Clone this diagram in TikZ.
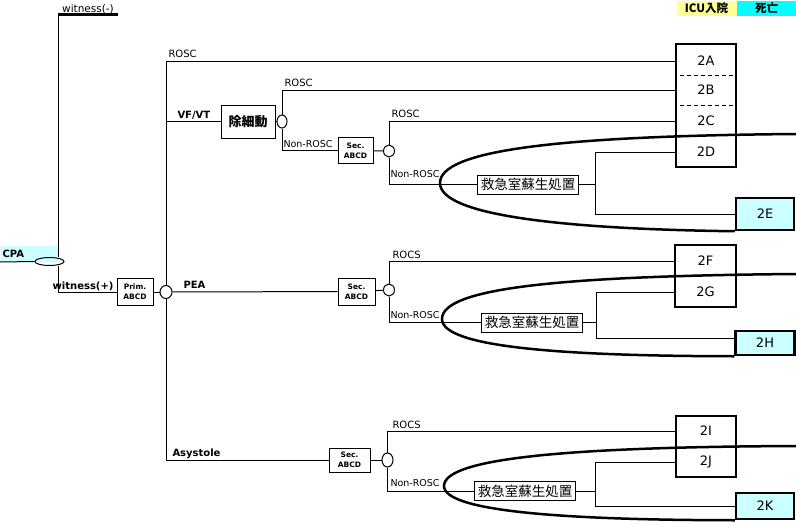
\documentclass[tikz,border=0pt]{standalone}
\usepackage{fontspec}
\setmainfont{DejaVu Sans}
\newfontfamily\jp{Noto Sans CJK JP}
\usetikzlibrary{shapes.geometric,calc}
\definecolor{icuyellow}{RGB}{255,255,153}
\definecolor{deadcyan}{RGB}{0,255,255}
\definecolor{palecyan}{RGB}{204,255,255}
\begin{document}
\begin{tikzpicture}[x=1pt, y=-1pt, line width=1pt,
    lbl/.style={font=\fontsize{10}{10}\selectfont, inner sep=0pt, anchor=base west},
    nrlbl/.style={font=\fontsize{9.5}{10}\selectfont, inner sep=0pt, anchor=base west},
    blbl/.style={font=\fontsize{10}{10}\selectfont\bfseries, inner sep=0pt, anchor=base west},
    box/.style={draw, inner sep=0pt},
    abcd/.style={box, align=center, font=\fontsize{7.5}{10}\selectfont\bfseries},
    res/.style={box, minimum width=101, minimum height=19, font=\jp\fontsize{13.5}{13.5}\selectfont},
    outcome/.style={draw, line width=2.5pt, inner sep=0pt, font=\fontsize{13}{13}\selectfont},
    num/.style={font=\fontsize{13}{13}\selectfont, inner sep=0pt},
    junc/.style={ellipse, draw, inner sep=0pt, minimum width=11, minimum height=13},
    loop/.style={line width=2.5pt}
    ]
    \useasboundingbox (0,0) rectangle (796,525);
    % header
    \node[fill=icuyellow, minimum width=60, minimum height=15, anchor=north west, inner sep=0pt,
      font=\jp\fontsize{11.5}{11.5}\selectfont\bfseries] (icu) at (676,0) {ICU入院};
    \node[fill=deadcyan, minimum width=60, minimum height=15, anchor=north west, inner sep=0pt,
      font=\jp\fontsize{11.5}{11.5}\selectfont\bfseries] (dead) at (736,0) {死亡};

    % start
    \node[fill=palecyan, anchor=south west, minimum height=16, text width=54, inner xsep=2pt,
      inner ysep=0pt, align=left, font=\fontsize{10}{10}\selectfont\bfseries] (cpa) at (0,262) {CPA};
    \node[junc, minimum width=29, minimum height=8] (j0) at (49.5,261.5) {};
    \node[lbl, anchor=south west, minimum width=59, font=\fontsize{10.5}{10.5}\selectfont] (wminus) at (58,14) {witness(-)};
    \draw[line width=3pt] (wminus.south west) -- (wminus.south east);
    \draw (wminus.south west) -- (wminus.south west |- j0.north);
    \draw (cpa.south west) -- (j0.west);
    \node[abcd, minimum width=36, minimum height=27] (prim) at (135,292) {Prim.\\ABCD};
    \draw (wminus.south west |- j0.south) |- (prim);
    \node[blbl, anchor=base east, font=\fontsize{10}{10}\selectfont\bfseries] (wplus) at (114,289) {witness(+)};
    \node[junc, minimum width=12, minimum height=13] (j1) at (166,292) {};
    \draw (prim) -- (j1);

    % VF/VT
    \node[outcome, minimum width=60, minimum height=123] (bAD) at (706,105.5) {};
    \node[num] (n2A) at (706,61) {2A};
    \node[num] (n2B) at (706,90) {2B};
    \node[num] (n2C) at (706,121) {2C};
    \node[num] (n2D) at (706,152) {2D};
    \draw[dash pattern=on 4pt off 3pt] (680,75) -- (734,75);
    \draw[dash pattern=on 4pt off 3pt] (680,105) -- (734,105);
    \draw (j1) |- (bAD.west |- n2A);
    \node[lbl] (rosc1) at (168,57) {ROSC};
    \node[blbl] (vfvt) at (177,118) {VF/VT};
    \node[box, minimum width=54, minimum height=33, font=\jp\fontsize{13}{13}\selectfont\bfseries] (defib) at (248,121.5) {除細動};
    \draw (j1.center |- defib) -- (defib);
    \node[junc, minimum width=10, minimum height=13] (j2) at (282,121.5) {};
    \draw (defib) -- (j2);
    \draw (j2) |- (bAD.west |- n2B);
    \node[lbl] (rosc2) at (284,86) {ROSC};
    \node[abcd, minimum width=35, minimum height=26] (sec1) at (355.5,150.5) {Sec.\\ABCD};
    \draw (j2) |- (sec1);
    \node[nrlbl] (nr1) at (283,147) {Non-ROSC};
    \node[junc, minimum width=11, minimum height=12] (j3) at (389,151) {};
    \draw (sec1) -- (j3);
    \draw (j3) |- (bAD.west |- n2C);
    \node[lbl] (rosc3) at (391,117) {ROSC};
    \node[res] (res1) at (528,184.5) {救急室蘇生処置};
    \draw (j3) |- (res1);
    \node[nrlbl] (nr2) at (390,177) {Non-ROSC};
    \coordinate (sp1) at (595,184.5);
    \draw (res1) -- (sp1);
    \draw (sp1) |- (bAD.west |- n2D);
    \node[outcome, fill=palecyan, minimum width=58, minimum height=32] (b2E) at (765,214) {2E};
    \draw (sp1) |- (b2E.west);
    \draw[loop] (796,134) .. controls (560,136) and (440,150) .. (440,183)
      .. controls (440,215) and (560,229) .. (b2E.south west);

    % PEA
    \node[blbl] (pea) at (183,288) {PEA};
    \node[abcd, minimum width=37, minimum height=27] (sec2) at (356.5,291.5) {Sec.\\ABCD};
    \draw (j1) -- (sec2);
    \node[junc, minimum width=11, minimum height=12] (j4) at (389,290) {};
    \draw (sec2) -- (j4);
    \node[outcome, minimum width=61, minimum height=62] (bFG) at (705.5,276) {};
    \node[num] (n2F) at (705.5,261) {2F};
    \node[num] (n2G) at (705.5,292) {2G};
    \draw (j4) |- (bFG.west |- n2F);
    \node[lbl] (rocs1) at (392,258) {ROCS};
    \node[res] (res2) at (532,322.5) {救急室蘇生処置};
    \draw (j4) |- (res2);
    \node[nrlbl] (nr3) at (390,318) {Non-ROSC};
    \coordinate (sp2) at (596,322.5);
    \draw (res2) -- (sp2);
    \draw (sp2) |- (bFG.west |- n2G);
    \node[outcome, fill=palecyan, minimum width=59, minimum height=24] (b2H) at (765,343) {2H};
    \draw (sp2) |- ($(b2H.west)+(0,-5)$);
    \draw[loop] (796,274) .. controls (560,276) and (442,288) .. (442,319)
      .. controls (442,347) and (560,356) .. (b2H.south west);

    % Asystole
    \node[blbl] (asys) at (172,456) {Asystole};
    \node[abcd, minimum width=41, minimum height=24] (sec3) at (349.5,460) {Sec.\\ABCD};
    \draw (j1) |- (sec3);
    \node[junc, minimum width=11, minimum height=14] (j5) at (387.5,460) {};
    \draw (sec3) -- (j5);
    \node[outcome, minimum width=60, minimum height=61] (bIJ) at (706,446.5) {};
    \node[num] (n2I) at (706,431) {2I};
    \node[num] (n2J) at (706,462) {2J};
    \draw (j5) |- (bIJ.west |- n2I);
    \node[lbl] (rocs2) at (392,428) {ROCS};
    \node[res] (res3) at (525,491) {救急室蘇生処置};
    \draw (j5) |- (res3);
    \node[nrlbl] (nr4) at (390,486) {Non-ROSC};
    \coordinate (sp3) at (595,491);
    \draw (res3) -- (sp3);
    \draw (sp3) |- (bIJ.west |- n2J);
    \node[outcome, fill=palecyan, minimum width=58, minimum height=26] (b2K) at (765,506) {2K};
    \draw (sp3) |- (b2K.west);
    \draw[loop] (796,446) .. controls (570,447) and (444,458) .. (444,486)
      .. controls (444,512) and (570,520) .. (b2K.south west);
  \end{tikzpicture}
\end{document}
